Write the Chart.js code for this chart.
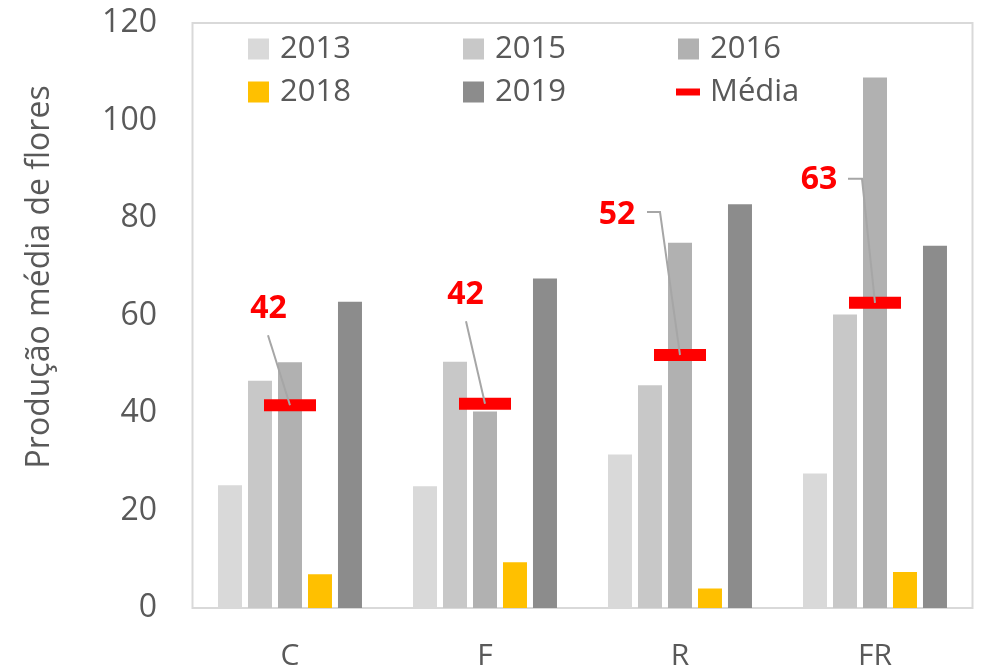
<!DOCTYPE html>
<html>
<head>
<meta charset="utf-8">
<script src="https://cdn.jsdelivr.net/npm/chart.js@4.4.1/dist/chart.umd.min.js"></script>
<style>
    html, body { margin: 0; padding: 0; background: #ffffff; }
    #wrap { width: 984px; height: 672px; }
</style>
</head>
<body>
<div id="wrap"><canvas id="flowerChart"></canvas></div>
<script>
// Data
const categories = ['C', 'F', 'R', 'FR'];
const v2013 = [25.2, 25.0, 31.5, 27.6];
const v2015 = [46.6, 50.5, 45.7, 60.2];
const v2016 = [50.4, 40.3, 74.9, 108.8];
const v2018 = [6.9, 9.4, 4.0, 7.4];
const v2019 = [62.8, 67.6, 82.8, 74.3];
const media = [41.6, 41.9, 51.9, 62.6];
const mediaLabels = ['42', '42', '52', '63'];
const yTicks = [0, 20, 40, 60, 80, 100, 120];
const yTitle = 'Produção média de flores';

// Callout placement (pixel offsets from the mean marker)
const callouts = [
    { label: [-21.5, -96.5], path: [[-22, -70]] },
    { label: [-19.5, -109], path: [[-19, -82.5]] },
    { label: [-63, -140], path: [[-33, -143], [-20, -143]] },
    { label: [-56, -122.5], path: [[-27, -124], [-13, -124]] }
];

const textColor = '#595959';
const fontFamily = '"Open Sans", "Noto Sans", sans-serif';

const bar = (label, data, color) => ({
    type: 'bar',
    label: label,
    data: data,
    backgroundColor: color,
    borderWidth: 0,
    order: 1,
    categoryPercentage: 0.769,
    barPercentage: 0.8
});

// Plot area frame + y axis title
const framePlugin = {
    id: 'frame',
    beforeDatasetsDraw(chart) {
        const { ctx, chartArea: a } = chart;
        ctx.save();
        ctx.strokeStyle = '#d9d9d9';
        ctx.lineWidth = 2;
        ctx.strokeRect(a.left, a.top, a.right - a.left, a.bottom - a.top);

        // title sits a bit above the plot's middle, like the original
        ctx.translate(40, a.top + (a.bottom - a.top) * 0.434);
        ctx.rotate(-Math.PI / 2);
        ctx.fillStyle = textColor;
        ctx.font = '32px ' + fontFamily;
        ctx.textAlign = 'center';
        ctx.textBaseline = 'middle';
        ctx.fillText(yTitle, 0, 0);
        ctx.restore();
    }
};

// Leader lines + labels for the mean
const calloutPlugin = {
    id: 'callouts',
    afterDatasetsDraw(chart) {
        const { ctx } = chart;
        const idx = chart.data.datasets.findIndex(d => d.label === 'Média');
        const meta = chart.getDatasetMeta(idx);
        ctx.save();
        meta.data.forEach((pt, i) => {
            const c = callouts[i];
            ctx.strokeStyle = '#a6a6a6';
            ctx.lineWidth = 2;
            ctx.beginPath();
            c.path.forEach((p, j) => {
                if (j === 0) ctx.moveTo(pt.x + p[0], pt.y + p[1]);
                else ctx.lineTo(pt.x + p[0], pt.y + p[1]);
            });
            ctx.lineTo(pt.x, pt.y);
            ctx.stroke();

            ctx.fillStyle = '#ff0000';
            ctx.font = 'bold 32px ' + fontFamily;
            ctx.textAlign = 'center';
            ctx.textBaseline = 'middle';
            ctx.fillText(mediaLabels[i], pt.x + c.label[0], pt.y + c.label[1]);
        });
        ctx.restore();
    }
};

// Legend laid out as a 3-column grid inside the plot
const gridLegendPlugin = {
    id: 'gridLegend',
    afterDraw(chart) {
        const { ctx } = chart;
        const colX = [248, 463, 678];
        const rowY = [49, 92];
        ctx.save();
        ctx.font = '31px ' + fontFamily;
        ctx.textBaseline = 'middle';
        ctx.textAlign = 'left';
        chart.data.datasets.forEach((ds, i) => {
            const x = colX[i % 3];
            const y = rowY[Math.floor(i / 3)];
            if (ds.type === 'line') {
                ctx.fillStyle = ds.pointBorderColor;
                ctx.fillRect(x - 2, y - 3.5, 24, 7);
            } else {
                ctx.fillStyle = ds.backgroundColor;
                ctx.fillRect(x, y - 10.5, 21, 21);
            }
            ctx.fillStyle = textColor;
            ctx.fillText(ds.label, x + 32, y);
        });
        ctx.restore();
    }
};

new Chart(document.getElementById('flowerChart'), {
    data: {
        labels: categories,
        datasets: [
            bar('2013', v2013, '#d9d9d9'),
            bar('2015', v2015, '#c8c8c8'),
            bar('2016', v2016, '#b1b1b1'),
            bar('2018', v2018, '#ffc000'),
            bar('2019', v2019, '#8c8c8c'),
            {
                type: 'line',
                label: 'Média',
                data: media,
                showLine: false,
                clip: false,
                order: 0,
                pointStyle: 'line',
                pointRadius: 26,
                pointHoverRadius: 26,
                pointBorderWidth: 12,
                pointHoverBorderWidth: 12,
                pointBorderColor: '#ff0000',
                pointBackgroundColor: '#ff0000'
            }
        ]
    },
    options: {
        responsive: true,
        maintainAspectRatio: false,
        animation: false,
        layout: { autoPadding: false, padding: { left: 0, right: 11.5, top: 23, bottom: 0 } },
        plugins: {
            legend: { display: false },
            tooltip: { enabled: false }
        },
        scales: {
            x: {
                grid: { display: false, drawTicks: false },
                border: { display: false },
                ticks: {
                    color: textColor,
                    font: { family: fontFamily, size: 30 },
                    padding: 30
                },
                afterFit: (scale) => { scale.height = 64; }
            },
            y: {
                min: 0,
                max: 120,
                afterBuildTicks: (scale) => { scale.ticks = yTicks.map(v => ({ value: v })); },
                grid: { display: false, drawTicks: false },
                border: { display: false },
                ticks: {
                    color: textColor,
                    font: { family: fontFamily, size: 32 },
                    padding: 35.5
                },
                afterFit: (scale) => {
                    scale.width = 192.5;
                    scale.paddingTop = 0;
                    scale.paddingBottom = 0;
                }
            }
        }
    },
    plugins: [framePlugin, calloutPlugin, gridLegendPlugin]
});
</script>
</body>
</html>
